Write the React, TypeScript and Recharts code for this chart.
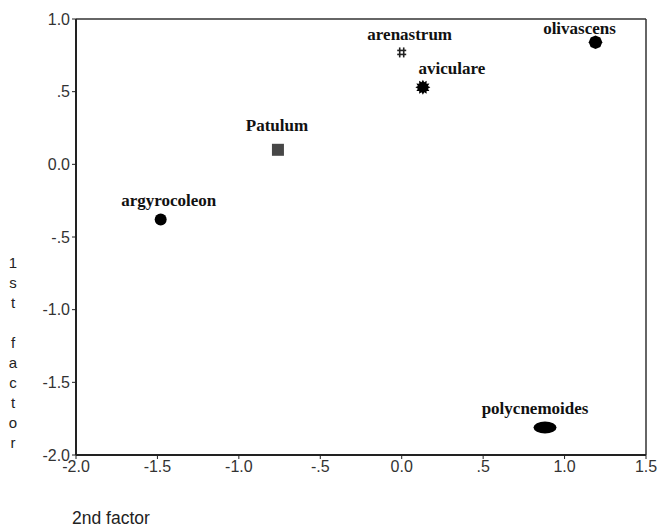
import React from 'react';
import { ScatterChart, Scatter, XAxis, YAxis, ReferenceLine } from 'recharts';

// species positions on the two factors
const species = ['Patulum', 'argyrocoleon', 'arenastrum', 'aviculare', 'olivascens', 'polycnemoides'];
const factor2 = [-0.76, -1.48, 0.0, 0.13, 1.19, 0.88];
const factor1 = [0.1, -0.38, 0.77, 0.53, 0.84, -1.81];
const markers = ['square', 'circle', 'hash', 'star', 'octagon', 'ellipse'];

const xTicks = [-2, -1.5, -1, -0.5, 0, 0.5, 1, 1.5];
const yTicks = [-2, -1.5, -1, -0.5, 0, 0.5, 1];

// where each name sits relative to its marker
const labelOffsets: [number, number][] = [
  [-1, -19],
  [8, -14],
  [8, -12],
  [29, -13],
  [-16, -8],
  [-10, -13],
];

const data = species.map((name, i) => ({
  name,
  x: factor2[i],
  y: factor1[i],
  marker: markers[i],
  offset: labelOffsets[i],
}));

const fmt = (v: number) => {
  if (v === 0) return '0.0';
  const s = v.toFixed(1);
  if (Math.abs(v) < 1) return s.replace('0.', '.');
  return s;
};

const polygon = (cx: number, cy: number, n: number, rOut: number, rIn: number) => {
  const pts: string[] = [];
  for (let i = 0; i < n * 2; i++) {
    const r = i % 2 === 0 ? rOut : rIn;
    const a = (Math.PI * i) / n;
    pts.push(`${cx + r * Math.cos(a)},${cy + r * Math.sin(a)}`);
  }
  return pts.join(' ');
};

const Marker = (props: any) => {
  const { cx, cy, payload } = props;
  let mark: React.ReactNode = null;
  switch (payload.marker) {
    case 'square':
      mark = <rect x={cx - 6} y={cy - 6} width={12} height={12} fill="#474747" />;
      break;
    case 'circle':
      mark = <circle cx={cx} cy={cy} r={6} fill="#000" />;
      break;
    case 'hash':
      mark = (
        <g stroke="#222" strokeWidth={1.6}>
          <line x1={cx - 2} y1={cy - 5} x2={cx - 2} y2={cy + 5} />
          <line x1={cx + 2} y1={cy - 5} x2={cx + 2} y2={cy + 5} />
          <line x1={cx - 4.5} y1={cy - 2} x2={cx + 4.5} y2={cy - 2} />
          <line x1={cx - 4.5} y1={cy + 2} x2={cx + 4.5} y2={cy + 2} />
        </g>
      );
      break;
    case 'star':
      mark = <polygon points={polygon(cx, cy, 12, 7.5, 5.2)} fill="#000" />;
      break;
    case 'octagon':
      mark = <polygon points={polygon(cx, cy, 4, 6.8, 6.8)} fill="#000" />;
      break;
    case 'ellipse':
      mark = <ellipse cx={cx} cy={cy} rx={11.5} ry={6} fill="#000" />;
      break;
  }
  return (
    <g>
      {mark}
      <text
        x={cx + payload.offset[0]}
        y={cy + payload.offset[1]}
        textAnchor="middle"
        fontFamily="'Liberation Serif', 'Times New Roman', serif"
        fontWeight="bold"
        fontSize={17}
        fill="#111"
      >
        {payload.name}
      </text>
    </g>
  );
};

const yTitle = '1st factor'.split('');

const tickStyle = { fill: '#333', fontSize: 16, fontFamily: "'Liberation Sans', Arial, sans-serif" };

export default function App() {
  return (
    <div style={{ position: 'absolute', left: 0, top: 0, background: '#fff' }}>
      <ScatterChart width={658} height={527} margin={{ top: 19, right: 12, left: 0, bottom: 42 }}>
        <XAxis
          type="number"
          dataKey="x"
          domain={[-2, 1.5]}
          ticks={xTicks}
          tickFormatter={fmt}
          height={30}
          axisLine={{ stroke: '#222', strokeWidth: 2 }}
          tickLine={{ stroke: '#222' }}
          tickSize={4}
          tick={tickStyle}
          label={{
            content: (p: any) => (
              <text
                x={p.viewBox.x - 4}
                y={p.viewBox.y + 69}
                fontSize={17.5}
                fontFamily="'Liberation Sans', Arial, sans-serif"
                fill="#222"
              >
                2nd factor
              </text>
            ),
          }}
        />
        <YAxis
          type="number"
          dataKey="y"
          domain={[-2, 1]}
          ticks={yTicks}
          tickFormatter={fmt}
          width={76}
          axisLine={{ stroke: '#222', strokeWidth: 2 }}
          tickLine={{ stroke: '#222' }}
          tickSize={4}
          tick={tickStyle}
          label={{
            content: () => (
              <text fontSize={15} fontFamily="'Liberation Sans', Arial, sans-serif" fill="#222" textAnchor="middle">
                {yTitle.map((ch, i) => (
                  <tspan key={i} x={13} y={268 + i * 20}>
                    {ch === ' ' ? '\u00a0' : ch}
                  </tspan>
                ))}
              </text>
            ),
          }}
        />
        <ReferenceLine y={1} stroke="#333" strokeWidth={1.5} />
        <ReferenceLine x={1.5} stroke="#333" strokeWidth={1.5} />
        <Scatter data={data} shape={Marker} isAnimationActive={false} />
      </ScatterChart>
    </div>
  );
}
